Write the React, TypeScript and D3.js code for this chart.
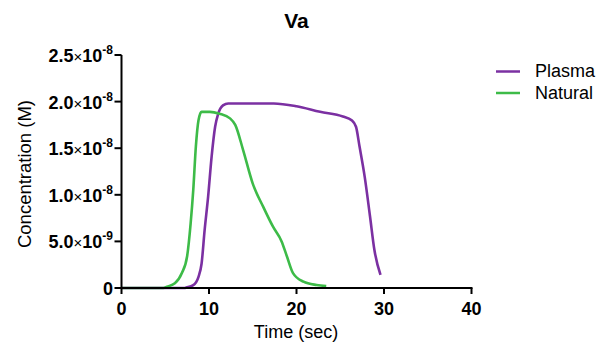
import React from 'react';
import * as d3 from 'd3';

// time (sec) and concentration (M)
const plasmaTime = [0, 7.2, 7.4, 8.2, 8.8, 9.15, 9.5, 9.9, 10.3, 10.7, 11.05, 11.6, 12.2, 17.4, 20.0, 22.7, 25.3, 26.3, 26.8, 27.2, 27.8, 28.4, 28.9, 29.6];
const plasmaConc = [0, 0, 0.05e-9, 0.3e-9, 1.2e-9, 2.6e-9, 6.2e-9, 9.8e-9, 1.41e-8, 1.73e-8, 1.87e-8, 1.96e-8, 1.98e-8, 1.98e-8, 1.95e-8, 1.89e-8, 1.84e-8, 1.8e-8, 1.73e-8, 1.52e-8, 1.19e-8, 7.7e-9, 4.1e-9, 1.4e-9];

const naturalTime = [0, 4.8, 5.2, 6.1, 6.9, 7.5, 7.9, 8.2, 8.5, 8.8, 9.15, 10.1, 11.2, 12.4, 13.0, 13.9, 15.0, 16.2, 17.3, 18.3, 18.9, 19.6, 20.8, 22.3, 23.4];
const naturalConc = [0, 0, 0.14e-9, 0.5e-9, 1.6e-9, 3.4e-9, 6.9e-9, 1.05e-8, 1.52e-8, 1.8e-8, 1.89e-8, 1.89e-8, 1.87e-8, 1.82e-8, 1.75e-8, 1.48e-8, 1.12e-8, 8.7e-9, 6.6e-9, 5.0e-9, 3.4e-9, 1.6e-9, 0.68e-9, 0.32e-9, 0.2e-9];

const xTicks = [0, 10, 20, 30, 40];
const yTicks = [0, 5e-9, 1e-8, 1.5e-8, 2e-8, 2.5e-8];
const yMantissa = ['0', '5.0', '1.0', '1.5', '2.0', '2.5'];
const yExponent = ['', '-9', '-8', '-8', '-8', '-8'];

const seriesNames = ['Plasma', 'Natural'];
const seriesColors = ['#7b30a2', '#3dbb48'];

const W = 597;
const H = 345;
const font = '"Liberation Sans", Arial, Helvetica, sans-serif';

export default function App() {
  const x = d3.scaleLinear().domain([0, 40]).range([121.5, 471.5]);
  const y = d3.scaleLinear().domain([0, 2.5e-8]).range([288, 55]);

  const line = d3.line<[number, number]>()
    .x(d => x(d[0]))
    .y(d => y(d[1]))
    .curve(d3.curveMonotoneX);

  const series = [
    plasmaTime.map((t, i) => [t, plasmaConc[i]] as [number, number]),
    naturalTime.map((t, i) => [t, naturalConc[i]] as [number, number]),
  ];

  return (
    <svg width={W} height={H} style={{ position: 'absolute', left: 0, top: 0, background: '#fff' }} fontFamily={font}>
      <text x={296.5} y={28} textAnchor="middle" fontSize={21} fontWeight="bold">Va</text>

      {/* lines */}
      {series.map((s, i) => (
        <path key={i} d={line(s) || ''} fill="none" stroke={seriesColors[i]} strokeWidth={2.6} strokeLinejoin="round" />
      ))}

      {/* y axis */}
      <line x1={x(0)} x2={x(0)} y1={y(0) + 1} y2={y(2.5e-8)} stroke="#000" strokeWidth={2} />
      {yTicks.map((v, i) => (
        <g key={i}>
          <line x1={x(0) - 7} x2={x(0)} y1={y(v)} y2={y(v)} stroke="#000" strokeWidth={2} />
          <text x={113} y={y(v) + 7} textAnchor="end" fontSize={18} fontWeight="bold">
            {yExponent[i] ? (
              <>
                <tspan>{yMantissa[i]}</tspan>
                <tspan fontWeight="normal" fontSize={15}>×</tspan>
                <tspan>10</tspan>
                <tspan fontSize={12} dy={-8}>{yExponent[i]}</tspan>
              </>
            ) : (
              <tspan>{yMantissa[i]}</tspan>
            )}
          </text>
        </g>
      ))}

      {/* x axis */}
      <line x1={x(0) - 1} x2={x(40) + 1} y1={y(0)} y2={y(0)} stroke="#000" strokeWidth={2} />
      {xTicks.map(t => (
        <g key={t}>
          <line x1={x(t)} x2={x(t)} y1={y(0)} y2={y(0) + 6} stroke="#000" strokeWidth={2} />
          <text x={x(t)} y={315} textAnchor="middle" fontSize={18} fontWeight="bold">{t}</text>
        </g>
      ))}

      <text x={296} y={338} textAnchor="middle" fontSize={18}>Time (sec)</text>
      <text transform={`translate(31,174) rotate(-90)`} textAnchor="middle" fontSize={18.5}>Concentration (M)</text>

      {/* legend */}
      {seriesNames.map((n, i) => (
        <g key={n}>
          <line x1={496} x2={520} y1={71.5 + i * 21.5} y2={71.5 + i * 21.5} stroke={seriesColors[i]} strokeWidth={2.5} />
          <text x={535} y={77 + i * 21.5} fontSize={18}>{n}</text>
        </g>
      ))}
    </svg>
  );
}
